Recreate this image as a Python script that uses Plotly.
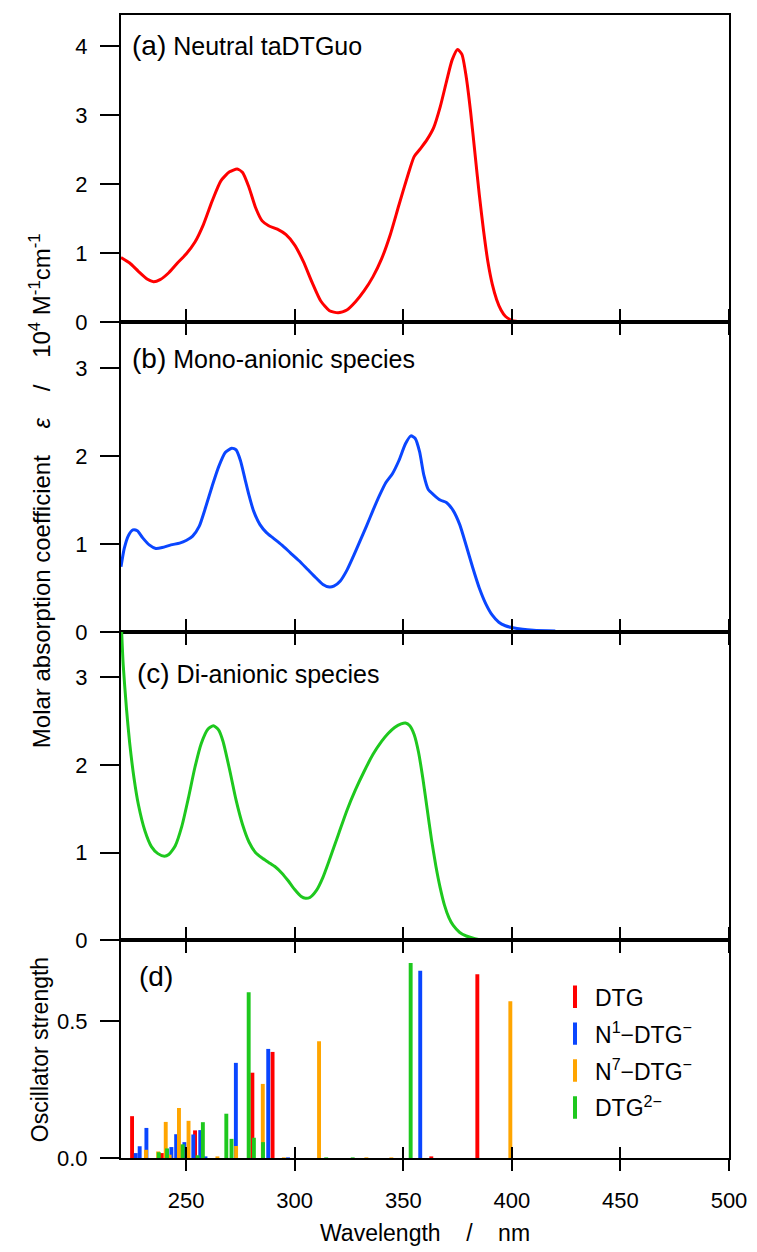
import plotly.graph_objects as go

# ---------------- data ----------------
# (a) Neutral taDTGuo  (wavelength nm, epsilon /1e4)
wl_a = [220, 224, 228, 232, 235, 238, 242, 246, 250, 254, 258, 262, 266, 270, 273.5, 276, 279, 282, 285, 288,
        292, 296, 300, 304, 308, 312, 316, 320, 324, 328, 332, 336, 340, 344, 348, 352, 355, 358, 361, 364,
        367, 370, 372.5, 375, 377, 379, 381, 383, 385, 387, 389, 391, 393, 395, 397, 400, 405, 410, 420]
eps_a = [0.94, 0.86, 0.74, 0.63, 0.59, 0.62, 0.72, 0.86, 0.99, 1.16, 1.42, 1.76, 2.05, 2.18, 2.22, 2.17, 1.95, 1.66, 1.47, 1.40,
         1.35, 1.27, 1.12, 0.88, 0.58, 0.31, 0.17, 0.14, 0.18, 0.30, 0.46, 0.66, 0.92, 1.27, 1.70, 2.12, 2.40, 2.52, 2.65, 2.82,
         3.12, 3.50, 3.80, 3.95, 3.88, 3.55, 3.05, 2.45, 1.85, 1.32, 0.87, 0.55, 0.33, 0.18, 0.09, 0.03, 0.005, 0.0, 0.0]

# (b) Mono-anionic species
wl_b = [220, 221.5, 223.5, 225.5, 227.5, 230, 233, 236, 239, 243, 247, 250, 253, 256, 259, 262, 265, 268, 271, 273,
        275, 277, 279, 281, 284, 287, 290, 294, 298, 302, 306, 310, 313, 316, 318, 321, 324, 327, 330, 333,
        336, 339, 342, 345, 348, 351, 353.5, 355.5, 357.5, 359.5, 361.5, 364, 367, 370, 373, 376, 379, 382, 385, 388,
        391, 394, 397, 400, 405, 410, 420]
eps_b = [0.74, 0.95, 1.10, 1.16, 1.15, 1.07, 0.99, 0.95, 0.96, 0.99, 1.01, 1.04, 1.09, 1.20, 1.42, 1.66, 1.88, 2.04, 2.09, 2.07,
         1.95, 1.75, 1.55, 1.38, 1.22, 1.13, 1.07, 0.99, 0.90, 0.81, 0.71, 0.61, 0.54, 0.51, 0.52, 0.58, 0.70, 0.86, 1.03, 1.20,
         1.38, 1.55, 1.70, 1.80, 1.95, 2.14, 2.23, 2.20, 2.05, 1.78, 1.62, 1.56, 1.50, 1.47, 1.38, 1.22, 0.98, 0.73, 0.50, 0.32,
         0.19, 0.11, 0.07, 0.05, 0.03, 0.02, 0.01]

# (c) Di-anionic species
wl_c = [220, 221, 222.5, 224, 226, 228, 231, 234, 237, 240, 242, 245, 248, 251, 254, 257, 260, 262.5, 265, 267,
        270, 273, 276, 279, 282, 285, 288, 291, 294, 297, 300, 303, 305, 307, 310, 313, 316, 320, 324, 328,
        332, 336, 340, 343, 346, 349, 351, 353, 355, 357, 359, 361, 363, 365, 367, 369, 371, 373, 376, 379, 383, 387, 390]
eps_c = [3.70, 3.15, 2.65, 2.25, 1.85, 1.55, 1.25, 1.07, 0.99, 0.96, 0.98, 1.08, 1.30, 1.62, 1.97, 2.25, 2.41, 2.45, 2.40, 2.27,
         1.95, 1.60, 1.32, 1.12, 1.00, 0.94, 0.89, 0.84, 0.77, 0.68, 0.58, 0.50, 0.48, 0.49, 0.57, 0.72, 0.92, 1.20, 1.48, 1.72,
         1.93, 2.12, 2.27, 2.36, 2.43, 2.47, 2.48, 2.45, 2.35, 2.15, 1.85, 1.50, 1.15, 0.85, 0.60, 0.40, 0.26, 0.17, 0.09, 0.05,
         0.02, 0.005, 0.0]

# (d) oscillator strengths
dtg_wl = [225.1, 238.8, 254.1, 280.5, 289.8, 362.9, 384.1]
dtg_f = [0.153, 0.018, 0.101, 0.312, 0.388, 0.003, 0.672]

n1_wl = [226.8, 228.6, 231.7, 243.2, 245.4, 249.2, 253.3, 256.5, 258.9, 272.9, 287.8, 296.9, 357.8]
n1_f = [0.018, 0.043, 0.110, 0.040, 0.087, 0.058, 0.086, 0.102, 0.003, 0.348, 0.399, 0.002, 0.685]

n7_wl = [231.5, 237.1, 240.6, 242.4, 246.7, 251.1, 264.4, 273.0, 285.3, 295.0, 311.2, 333.0, 344.5, 399.3]
n7_f = [0.030, 0.024, 0.132, 0.012, 0.183, 0.136, 0.003, 0.044, 0.271, 0.002, 0.427, 0.002, 0.002, 0.573]

d2_wl = [237.4, 241.2, 248.4, 255.3, 257.7, 268.5, 270.9, 278.8, 281.2, 285.4, 314.5, 326.7, 353.4]
d2_f = [0.021, 0.035, 0.050, 0.010, 0.131, 0.162, 0.070, 0.606, 0.074, 0.058, 0.002, 0.002, 0.713]

series_names = ["DTG", "N<sup>1</sup>\u2212DTG<sup>\u2212</sup>", "N<sup>7</sup>\u2212DTG<sup>\u2212</sup>", "DTG<sup>2\u2212</sup>"]
x_ticks = [250, 300, 350, 400, 450, 500]

# ---------------- style ----------------
RED, BLUE, ORANGE, GREEN = "#ff0000", "#0a46ff", "#ffa500", "#1ec81e"
FONT = "Liberation Sans, Arial, sans-serif"
TICKFONT = dict(family=FONT, size=22, color="black")

PAGE_OFF = 8  # default body margin of the html page
W, H = 757 - PAGE_OFF, 1252 - PAGE_OFF
# plot area in page pixels: x 121..729, y 13..1158
ML, MR, MT, MB = 121 - PAGE_OFF, 28, 13 - PAGE_OFF, 94
PH = 1158 - 13
PW = 729 - 121


def py(ypix):  # page pixel -> paper fraction
    return (1158 - ypix) / PH


def px(xpix):
    return (xpix - 121) / PW


dom_d = [0, py(940)]
dom_c = [py(940), py(631)]
dom_b = [py(631), py(321)]
dom_a = [py(321), 1]

fig = go.Figure()

fig.add_trace(go.Scatter(x=wl_a, y=eps_a, mode="lines", line=dict(color=RED, width=3, shape="spline", smoothing=0.6),
                         xaxis="x", yaxis="y", showlegend=False))
fig.add_trace(go.Scatter(x=wl_b, y=eps_b, mode="lines", line=dict(color=BLUE, width=3, shape="spline", smoothing=0.6),
                         xaxis="x2", yaxis="y2", showlegend=False))
fig.add_trace(go.Scatter(x=wl_c, y=eps_c, mode="lines", line=dict(color=GREEN, width=3, shape="spline", smoothing=0.6),
                         xaxis="x3", yaxis="y3", showlegend=False))

bar_sets = [(dtg_wl, dtg_f, RED), (n1_wl, n1_f, BLUE), (n7_wl, n7_f, ORANGE), (d2_wl, d2_f, GREEN)]
for (wl, f, c) in bar_sets:
    fig.add_trace(go.Bar(x=wl, y=f, width=1.8, marker=dict(color=c, line=dict(width=0)),
                         xaxis="x4", yaxis="y4", showlegend=False))

for i, ((wl, f, c), name) in enumerate(zip(bar_sets, series_names)):
    fig.add_trace(go.Scatter(x=[None], y=[None], mode="markers", name=name, legendgroup=f"g{i}",
                             marker=dict(symbol="line-ns", size=17, color=c, line=dict(width=4, color=c)),
                             xaxis="x4", yaxis="y4"))

# invisible trace for crossing ticks on bottom axis
fig.add_trace(go.Scatter(x=[None], y=[None], xaxis="x5", yaxis="y4", showlegend=False, hoverinfo="skip"))

common_x = dict(range=[220, 500], tickvals=x_ticks, ticks="outside", ticklen=11, tickwidth=2, tickcolor="black",
                showline=True, linewidth=2, linecolor="black", showgrid=False, zeroline=False)
common_y = dict(ticks="outside", ticklen=19, tickwidth=2, tickcolor="black", showline=True, linewidth=2,
                linecolor="black", showgrid=False, zeroline=False, mirror=True, tickfont=TICKFONT,
                ticklabelstandoff=8)

fig.update_layout(
    width=W, height=H,
    margin=dict(l=ML, r=MR, t=MT, b=MB),
    paper_bgcolor="white", plot_bgcolor="white",
    barmode="overlay",
    font=dict(family=FONT, color="black"),
    xaxis=dict(common_x, anchor="y", showticklabels=False, mirror=True),
    xaxis2=dict(common_x, anchor="y2", showticklabels=False, mirror="ticks", matches="x"),
    xaxis3=dict(common_x, anchor="y3", showticklabels=False, mirror="ticks", matches="x"),
    xaxis4=dict(common_x, anchor="y4", showticklabels=True, mirror="ticks", matches="x", tickfont=TICKFONT,
                ticklabelstandoff=11),
    xaxis5=dict(range=[220, 500], tickvals=x_ticks, ticks="inside", ticklen=11, tickwidth=2, tickcolor="black",
                showticklabels=False, showline=False, showgrid=False, zeroline=False, overlaying="x4", anchor="y4",
                side="bottom"),
    yaxis=dict(common_y, domain=dom_a, anchor="x", range=[0, 4.45], tickvals=[0, 1, 2, 3, 4]),
    yaxis2=dict(common_y, domain=dom_b, anchor="x2", range=[0, 3.52], tickvals=[0, 1, 2, 3]),
    yaxis3=dict(common_y, domain=dom_c, anchor="x3", range=[0, 3.52], tickvals=[0, 1, 2, 3]),
    yaxis4=dict(common_y, domain=dom_d, anchor="x4", range=[0, 0.796], tickvals=[0, 0.5], tickformat=".1f"),
    legend=dict(x=px(555), y=py(975), xanchor="left", yanchor="top", bgcolor="rgba(0,0,0,0)",
                font=dict(family=FONT, size=23, color="black"), tracegroupgap=4, itemwidth=30),
)


def panel_label(tag, text, xpix, ypix):
    fig.add_annotation(xref="paper", yref="paper", x=px(xpix), y=py(ypix), xanchor="left", yanchor="middle",
                       showarrow=False,
                       text=f"<span style='font-size:28px'>{tag}</span>" + (f" {text}" if text else ""),
                       font=dict(family=FONT, size=25, color="black"))


panel_label("(a)", "Neutral taDTGuo", 130, 44)
panel_label("(b)", "Mono-anionic species", 130, 357)
panel_label("(c)", "Di-anionic species", 135, 673)
panel_label("(d)", "", 137, 976)

NB = "\u00a0"
fig.add_annotation(xref="paper", yref="paper", x=px(40), y=py(490), textangle=-90, showarrow=False,
                   xanchor="center", yanchor="middle",
                   text=f"Molar absorption coefficient{NB*4}<i>\u03b5</i>{NB*4}/{NB*4}10<sup>4</sup> M<sup>-1</sup>cm<sup>-1</sup>",
                   font=dict(family=FONT, size=24, color="black"))
fig.add_annotation(xref="paper", yref="paper", x=px(40), y=py(1050), textangle=-90, showarrow=False,
                   xanchor="center", yanchor="middle", text="Oscillator strength",
                   font=dict(family=FONT, size=23, color="black"))
fig.add_annotation(xref="paper", yref="paper", x=px(425), y=py(1233), showarrow=False,
                   xanchor="center", yanchor="middle", text=f"Wavelength{NB*4}/{NB*4}nm",
                   font=dict(family=FONT, size=23, color="black"))

fig.write_html("out.html")
